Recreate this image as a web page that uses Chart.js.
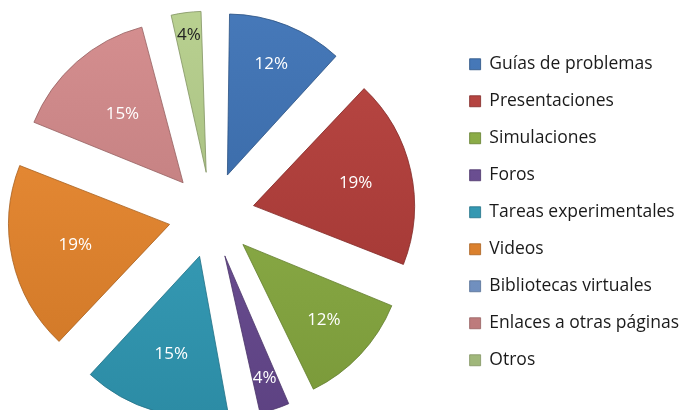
<!DOCTYPE html>
<html>
<head>
<meta charset="utf-8">
<script src="https://cdn.jsdelivr.net/npm/chart.js@4/dist/chart.umd.min.js"></script>
<style>
  html, body { margin: 0; padding: 0; background: #ffffff; }
  #wrap { position: relative; width: 681px; height: 410px; overflow: hidden; }
  #box { position: absolute; left: -27px; top: 0; width: 716px; height: 410px; }
</style>
</head>
<body>
<div id="wrap"><div id="box"><canvas id="myChartPie"></canvas></div></div>
<script>
// recursos usados (porcentajes)
const categorias = ['Guías de problemas', 'Presentaciones', 'Simulaciones', 'Foros',
  'Tareas experimentales', 'Videos', 'Bibliotecas virtuales', 'Enlaces a otras páginas', 'Otros'];
const porcentajes = [12, 19, 12, 4, 15, 19, 0, 15, 4];
const colores = ['#3b72b8', '#b83c38', '#8db242', '#6b4b96', '#31a1bf', '#f08a2c', '#7a9ed4', '#d68a8b', '#b8d28c'];
const coloresTexto = ['#ffffff', '#ffffff', '#ffffff', '#ffffff', '#ffffff', '#ffffff', '#ffffff', '#ffffff', '#222222'];
// how far out the % label sits, as part of the radius (like excel's best fit)
const posEtiqueta = [0.74, 0.65, 0.69, 0.8, 0.63, 0.6, 0.6, 0.57, 0.86];

const FONT = 'Open Sans';
const RADIO = 161;
const OFFSET = 172; // chart.js only moves the slice by offset / 4

function shade(hex, amt) {
  var n = parseInt(hex.slice(1), 16);
  var r = (n >> 16) & 255, g = (n >> 8) & 255, b = n & 255;
  var f = function (c) { return Math.max(0, Math.min(255, Math.round(c + amt * (amt > 0 ? 255 - c : c)))); };
  return 'rgb(' + f(r) + ',' + f(g) + ',' + f(b) + ')';
}

// chart.js also grows each exploded slice a bit (more for thin ones), take it back
const mismoRadio = {
  id: 'mismoRadio',
  afterDatasetUpdate(chart, args) {
    const meta = chart.getDatasetMeta(args.index);
    meta.data.forEach(function (arc) {
      const circ = arc.endAngle - arc.startAngle;
      const fix = 1 - Math.sin(Math.min(Math.PI, circ || 0));
      arc.outerRadius = RADIO - (OFFSET / 4) * fix;
    });
  }
};

// labels with the percentage on each slice
const etiquetas = {
  id: 'etiquetas',
  afterDatasetsDraw(chart) {
    const ctx = chart.ctx;
    const meta = chart.getDatasetMeta(0);
    const ds = chart.data.datasets[0];
    ctx.save();
    ctx.font = '17px ' + FONT;
    ctx.textAlign = 'center';
    ctx.textBaseline = 'middle';
    meta.data.forEach(function (arc, i) {
      const v = ds.data[i];
      if (!v) return;
      const p = arc.getProps(['x', 'y', 'startAngle', 'endAngle'], true);
      const mid = (p.startAngle + p.endAngle) / 2;
      const d = OFFSET / 4 + posEtiqueta[i] * RADIO;
      ctx.fillStyle = coloresTexto[i];
      ctx.fillText(v + '%', p.x + Math.cos(mid) * d, p.y + Math.sin(mid) * d);
    });
    ctx.restore();
  }
};

var ctx = document.getElementById('myChartPie');

new Chart(ctx, {
  type: 'pie',
  data: {
    labels: categorias,
    datasets: [{
      data: porcentajes,
      backgroundColor: function (c) {
        const area = c.chart.chartArea;
        const base = colores[c.dataIndex];
        if (!area) return base;
        const g = c.chart.ctx.createLinearGradient(0, 0, 0, 410);
        g.addColorStop(0, shade(base, 0.07));
        g.addColorStop(1, shade(base, -0.15));
        return g;
      },
      borderColor: colores.map(function (c) { return shade(c, -0.3); }),
      borderWidth: 0.8,
      offset: OFFSET,
      radius: RADIO,
      hoverOffset: 0
    }]
  },
  options: {
    responsive: true,
    maintainAspectRatio: false,
    animation: false,
    events: [],
    layout: { padding: { left: 0, top: 36, right: 0, bottom: 16 } },
    plugins: {
      tooltip: { enabled: false },
      legend: {
        position: 'right',
        align: 'start',
        labels: {
          color: '#1a1a1a',
          font: { family: FONT, size: 17.5 },
          boxWidth: 11,
          boxHeight: 11,
          padding: 19.5
        }
      }
    }
  },
  plugins: [mismoRadio, etiquetas]
});
</script>
</body>
</html>
